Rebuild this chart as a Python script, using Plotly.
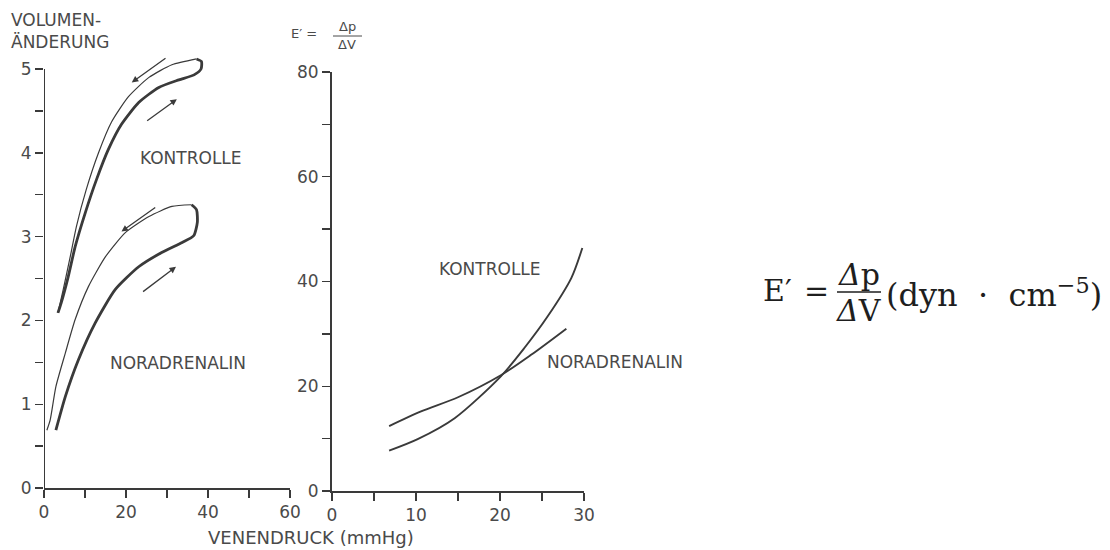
import plotly.graph_objects as go

# ---------------- data ----------------
# Left panel: volume change vs venous pressure (hysteresis loops)
kon_up_x = [3.4, 4.2, 5.9, 7.6, 10.1, 12.8, 15.7, 18.9, 23.1, 28.0, 32.9, 36.6, 38.3, 38.4, 37.2]
kon_up_y = [2.09, 2.21, 2.52, 2.88, 3.29, 3.68, 4.04, 4.34, 4.60, 4.78, 4.87, 4.93, 5.00, 5.09, 5.12]
kon_dn_x = [37.2, 31.2, 25.6, 20.6, 16.5, 13.3, 10.3, 7.9, 6.4, 4.7, 3.4]
kon_dn_y = [5.12, 5.05, 4.90, 4.67, 4.37, 4.00, 3.56, 3.12, 2.76, 2.37, 2.09]

nor_up_x = [2.9, 5.2, 8.4, 12.5, 17.4, 23.1, 28.7, 33.7, 36.5, 37.4, 37.2, 36.0]
nor_up_y = [0.69, 1.09, 1.53, 1.97, 2.37, 2.64, 2.81, 2.93, 3.01, 3.17, 3.32, 3.38]
nor_dn_x = [36.0, 31.2, 25.6, 19.9, 15.0, 10.8, 7.6, 5.2, 2.9, 1.5, 0.7]
nor_dn_y = [3.38, 3.36, 3.24, 3.05, 2.76, 2.40, 2.01, 1.61, 1.21, 0.81, 0.69]

# direction arrows (tail -> head) in data units of left panel
arrow_tail_x = [30.0, 24.8, 27.5, 23.8]
arrow_tail_y = [5.14, 4.37, 3.36, 2.33]
arrow_head_x = [21.4, 32.4, 18.9, 32.2]
arrow_head_y = [4.84, 4.64, 3.06, 2.64]

# Right panel: E' = dp/dV vs venous pressure
e_kon_x = [6.8, 10.2, 14.6, 20.1, 22.9, 25.7, 28.5, 29.8]
e_kon_y = [7.7, 9.9, 13.9, 21.9, 27.3, 33.4, 40.7, 46.4]
e_nor_x = [6.8, 10.6, 15.0, 20.1, 23.7, 27.9]
e_nor_y = [12.4, 15.2, 17.9, 22.1, 26.0, 31.0]

# ticks
left_x_ticks = [0, 10, 20, 30, 40, 50, 60]
left_x_text = ["0", "", "20", "", "40", "", "60"]
left_y_ticks = [0, 0.5, 1, 1.5, 2, 2.5, 3, 3.5, 4, 4.5, 5]
left_y_text = ["0", "", "1", "", "2", "", "3", "", "4", "", "5"]
right_x_ticks = [0, 5, 10, 15, 20, 25, 30]
right_x_text = ["0", "", "10", "", "20", "", "30"]
right_y_ticks = [0, 10, 20, 30, 40, 50, 60, 70, 80]
right_y_text = ["0", "", "20", "", "40", "", "60", "", "80"]

# ---------------- figure ----------------
W, H = 1110, 550
INK = "#3a3a3a"
TXT = "#4a4a4a"
FONT = "DejaVu Sans"

Y_TOP_LEFT = 5.3            # headroom so the loop tip above 5 is not clipped
Y0_PX, Y_PER_UNIT = 488, 83.8


def px(x):
    return x / W


def py(y):
    return 1 - y / H


fig = go.Figure()

thick = dict(color=INK, width=2.8, shape="spline", smoothing=0.6)
thin = dict(color=INK, width=1.2, shape="spline", smoothing=0.6)

fig.add_trace(go.Scatter(x=kon_up_x, y=kon_up_y, mode="lines", line=thick, xaxis="x", yaxis="y"))
fig.add_trace(go.Scatter(x=kon_dn_x, y=kon_dn_y, mode="lines", line=thin, xaxis="x", yaxis="y"))
fig.add_trace(go.Scatter(x=nor_up_x, y=nor_up_y, mode="lines", line=thick, xaxis="x", yaxis="y"))
fig.add_trace(go.Scatter(x=nor_dn_x, y=nor_dn_y, mode="lines", line=thin, xaxis="x", yaxis="y"))

fig.add_trace(go.Scatter(x=e_kon_x, y=e_kon_y, mode="lines",
                         line=dict(color=INK, width=1.9, shape="spline", smoothing=0.8),
                         xaxis="x2", yaxis="y2"))
fig.add_trace(go.Scatter(x=e_nor_x, y=e_nor_y, mode="lines",
                         line=dict(color=INK, width=1.9, shape="spline", smoothing=0.8),
                         xaxis="x2", yaxis="y2"))

axis_common = dict(showgrid=False, zeroline=False, showline=True, linecolor=INK, linewidth=2,
                   ticks="outside", ticklen=8, tickwidth=1.4, tickcolor=INK, automargin=False,
                   tickfont=dict(family=FONT, size=17, color=TXT), fixedrange=True)
left_y_common = dict(axis_common)
left_y_common["showline"] = False

fig.update_layout(
    width=W, height=H, margin=dict(l=0, r=0, t=0, b=0, autoexpand=False),
    paper_bgcolor="white", plot_bgcolor="white", showlegend=False, hovermode=False,
    xaxis=dict(domain=[px(44), px(290)], range=[0, 60], tickvals=left_x_ticks,
               ticktext=left_x_text, anchor="y", **axis_common),
    yaxis=dict(domain=[py(Y0_PX), py(Y0_PX - Y_TOP_LEFT * Y_PER_UNIT)], range=[0, Y_TOP_LEFT],
               tickvals=left_y_ticks, ticktext=left_y_text, anchor="x", **left_y_common),
    xaxis2=dict(domain=[px(332), px(584)], range=[0, 30], tickvals=right_x_ticks,
                ticktext=right_x_text, anchor="y2", **axis_common),
    yaxis2=dict(domain=[py(491), py(72)], range=[0, 80], tickvals=right_y_ticks,
                ticktext=right_y_text, anchor="x2", **axis_common),
)

ann = []
for tx, ty, hx, hy in zip(arrow_tail_x, arrow_tail_y, arrow_head_x, arrow_head_y):
    ann.append(dict(x=hx, y=hy, ax=tx, ay=ty, xref="x", yref="y", axref="x", ayref="y",
                    showarrow=True, arrowhead=2, arrowsize=1.0, arrowwidth=1.3,
                    arrowcolor=INK, text=""))

C = dict(xanchor="center", yanchor="middle", showarrow=False)
lab = dict(family=FONT, size=17, color=TXT)
ann += [
    dict(x=35.9, y=3.94, xref="x", yref="y", text="KONTROLLE", font=lab, **C),
    dict(x=32.7, y=1.49, xref="x", yref="y", text="NORADRENALIN", font=lab, **C),
    dict(x=18.8, y=42.4, xref="x2", yref="y2", text="KONTROLLE", font=lab, **C),
    dict(x=px(615), y=py(362), xref="paper", yref="paper", text="NORADRENALIN", font=lab, **C),
    # axis titles
    dict(x=px(9), y=py(31), xref="paper", yref="paper", xanchor="left", yanchor="middle",
         text="VOLUMEN-<br>ÄNDERUNG", align="left", showarrow=False,
         font=dict(family=FONT, size=17, color=TXT)),
    dict(x=px(311), y=py(537), xref="paper", yref="paper", text="VENENDRUCK (mmHg)",
         font=dict(family=FONT, size=18, color=TXT), **C),
    # small E' label
    dict(x=px(304), y=py(33), xref="paper", yref="paper", text="E′ =",
         font=dict(family=FONT, size=13, color=TXT), **C),
    dict(x=px(347), y=py(27), xref="paper", yref="paper", text="Δp",
         font=dict(family=FONT, size=13, color=TXT), **C),
    dict(x=px(347), y=py(45), xref="paper", yref="paper", text="ΔV",
         font=dict(family=FONT, size=13, color=TXT), **C),
]

SERIF = "DejaVu Serif"
FC = "#1e1e1e"
ann += [
    dict(x=px(777), y=py(290), xref="paper", yref="paper", text="E′",
         font=dict(family=SERIF, size=30, color=FC), **C),
    dict(x=px(816), y=py(290), xref="paper", yref="paper", text="=",
         font=dict(family=SERIF, size=30, color=FC), **C),
    dict(x=px(859), y=py(274), xref="paper", yref="paper", text="<i>Δ</i>p",
         font=dict(family=SERIF, size=30, color=FC), **C),
    dict(x=px(859), y=py(310), xref="paper", yref="paper", text="<i>Δ</i>V",
         font=dict(family=SERIF, size=30, color=FC), **C),
    dict(x=px(884), y=py(293), xref="paper", yref="paper", xanchor="left", yanchor="middle",
         text="(dyn  ·  cm<sup>−5</sup>)", showarrow=False,
         font=dict(family=SERIF, size=32, color=FC)),
]
fig.update_layout(annotations=ann)

fig.update_layout(shapes=[
    # left y-axis line, ending at the top tick (5)
    dict(type="line", xref="x", yref="y", x0=0, x1=0, y0=0, y1=left_y_ticks[-1],
         line=dict(color=INK, width=2)),
    dict(type="line", xref="paper", yref="paper", x0=px(333), x1=px(362), y0=py(36), y1=py(36),
         line=dict(color=TXT, width=1)),
    dict(type="line", xref="paper", yref="paper", x0=px(837), x1=px(881), y0=py(292), y1=py(292),
         line=dict(color=FC, width=1.6)),
])

fig.write_html("out.html", config={"displayModeBar": False, "staticPlot": True},
               post_script="document.body.style.margin='0';")
